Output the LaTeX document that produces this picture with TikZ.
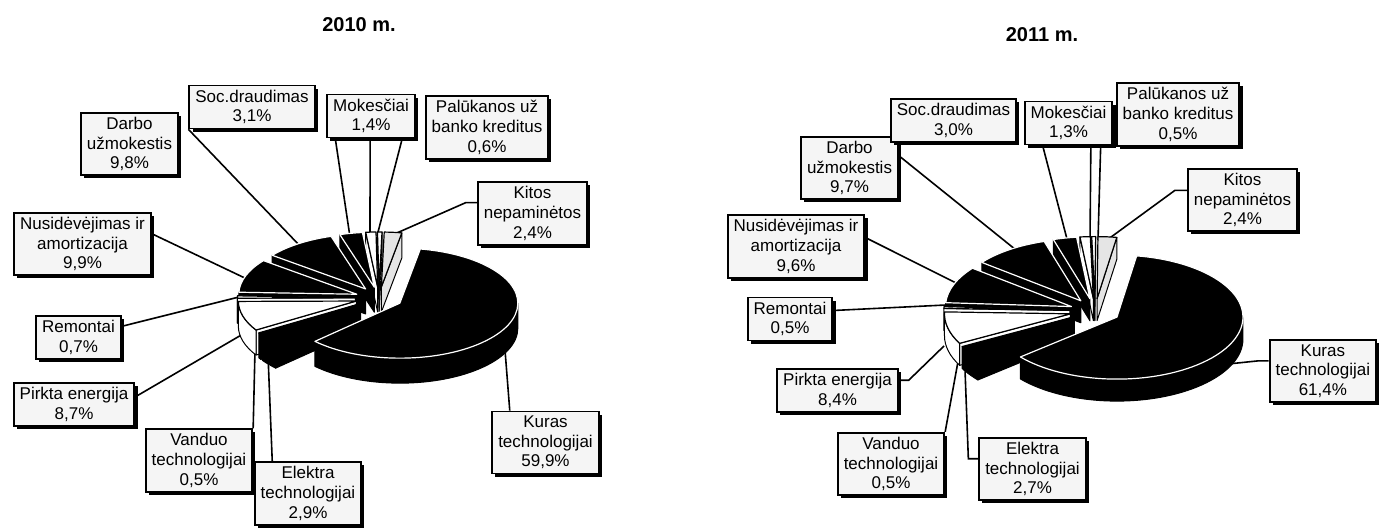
\documentclass[tikz,border=0pt]{standalone}
\usepackage{fontspec}
\setmainfont{Liberation Sans}
\usetikzlibrary{calc,shadows,backgrounds}

\tikzset{
  lbl/.style={draw, line width=0.9pt, fill=gray!8, align=center,
    font=\fontsize{8.5}{9.8}\selectfont, inner xsep=3pt, inner ysep=2.2pt,
    drop shadow={shadow xshift=1.6pt, shadow yshift=-1.6pt, fill=black, opacity=1}},
  ttl/.style={font=\bfseries\fontsize{10}{12}\selectfont},
  leader/.style={line width=0.8pt},
  side/.style={draw=black, line width=0.5pt, line join=round},
}

% #1 centre, #2 x radius, #3 y radius, #4 depth, #5 slices (from/to/fill/edge)
\newcommand{\explodedpie}[5]{%
  \foreach \angA/\angB/\col/\edg in #5 {
    \pgfmathsetmacro\amid{(\angA+\angB)/2}
    \pgfmathsetmacro\ca{cos(\angA)}
    \pgfmathsetmacro\cz{cos(\angB)}
    \pgfmathsetmacro\ba{max(\angA,180)}
    \pgfmathsetmacro\bz{min(\angB,360)}
    \path (#1) ++({0.2*#2*cos(\amid)},{0.2*#3*sin(\amid)}) coordinate (c) ++(0,-#4) coordinate (cb);
    \ifdim\ca pt>0pt
      \filldraw[side, fill=\col] (c) -- ++(\angA:#2 and #3) -- ++(0,-#4) -- (cb) -- cycle;
    \fi
    \ifdim\cz pt<0pt
      \filldraw[side, fill=\col] (c) -- ++(\angB:#2 and #3) -- ++(0,-#4) -- (cb) -- cycle;
    \fi
    \ifdim\bz pt>\ba pt
      \filldraw[side, fill=\col] (c) ++(\ba:#2 and #3)
        arc[start angle=\ba, end angle=\bz, x radius=#2, y radius=#3] -- ++(0,-#4)
        arc[start angle=\bz, end angle=\ba, x radius=#2, y radius=#3] -- cycle;
    \fi
  }
  \foreach \angA/\angB/\col/\edg in #5 {
    \pgfmathsetmacro\amid{(\angA+\angB)/2}
    \path (#1) ++({0.2*#2*cos(\amid)},{0.2*#3*sin(\amid)}) coordinate (c);
    \filldraw[fill=\col, draw=\edg, line width=0.6pt, line join=round] (c) -- ++(\angA:#2 and #3)
      arc[start angle=\angA, end angle=\angB, x radius=#2, y radius=#3] -- cycle;
  }
}

\def\slicesA{80/88.6/gray!20/black, 88.6/90.8/white/black, 90.8/95.8/white/black,
  95.8/107/black/white, 107/142.3/black/white, 142.3/177.9/black/white,
  177.9/180.4/white/black, 180.4/211.8/white/black, 211.8/213.6/black/black,
  213.6/224/black/black, 224/440/black/white}
\def\slicesB{81/89.6/gray!20/black, 89.6/91.4/white/black, 91.4/96.1/white/black,
  96.1/106.9/black/white, 106.9/141.8/black/white, 141.8/176.4/black/white,
  176.4/178.2/white/black, 178.2/208.4/white/black, 208.4/210.2/black/black,
  210.2/220/black/black, 220/441/black/white}

\begin{document}
\begin{tikzpicture}[x=0.5pt, y=0.5pt]
  \useasboundingbox (0,0) rectangle (1379,528);

  % pies
  \coordinate (oA) at (379,230);
  \coordinate (oB) at (1095,217);
  \explodedpie{oA}{118}{55}{25}{\slicesA}
  \explodedpie{oB}{126}{62}{22}{\slicesB}

  % 2010
  \node[ttl] (ttlA) at (359,503) {2010 m.};
  \node[lbl] (darA) at (129.5,384) {Darbo\\užmokestis\\9,8\%};
  \node[lbl] (socA) at (252,421) {Soc.draudimas\\3,1\%};
  \node[lbl] (mokA) at (371,412) {Mokesčiai\\1,4\%};
  \node[lbl] (palA) at (487,400.5) {Palūkanos už\\banko kreditus\\0,6\%};
  \node[lbl] (kitA) at (532.5,314.5) {Kitos\\nepaminėtos\\2,4\%};
  \node[lbl] (nusA) at (82.5,284) {Nusidėvėjimas ir\\amortizacija\\9,9\%};
  \node[lbl] (remA) at (78.5,190.5) {Remontai\\0,7\%};
  \node[lbl] (pirA) at (74,123.5) {Pirkta energija\\8,7\%};
  \node[lbl] (vanA) at (199,67.5) {Vanduo\\technologijai\\0,5\%};
  \node[lbl] (eleA) at (308,34.5) {Elektra\\technologijai\\2,9\%};
  \node[lbl] (kurA) at (545.5,85.5) {Kuras\\technologijai\\59,9\%};

  % 2011
  \node[ttl] (ttlB) at (1042,493) {2011 m.};
  \node[lbl] (darB) at (849.5,360) {Darbo\\užmokestis\\9,7\%};
  \node[lbl] (socB) at (953.5,407.5) {Soc.draudimas\\3,0\%};
  \node[lbl] (mokB) at (1068.5,405) {Mokesčiai\\1,3\%};
  \node[lbl] (palB) at (1178,413.5) {Palūkanos už\\banko kreditus\\0,5\%};
  \node[lbl] (kitB) at (1242.5,328) {Kitos\\nepaminėtos\\2,4\%};
  \node[lbl] (nusB) at (796,281.5) {Nusidėvėjimas ir\\amortizacija\\9,6\%};
  \node[lbl] (remB) at (790,209) {Remontai\\0,5\%};
  \node[lbl] (pirB) at (837.5,137.5) {Pirkta energija\\8,4\%};
  \node[lbl] (vanB) at (891,64) {Vanduo\\technologijai\\0,5\%};
  \node[lbl] (eleB) at (1032.5,59) {Elektra\\technologijai\\2,7\%};
  \node[lbl, anchor=east] (kurB) at (1377,157) {Kuras\\technologijai\\61,4\%};

  % leader ends on the pies
  \coordinate (pSocA) at (300,282);
  \coordinate (pMokA1) at (350,291);
  \coordinate (pMokA2) at (370,292);
  \coordinate (pMokA3) at (377,292);
  \coordinate (pKitA) at (390,292);
  \coordinate (pNusA) at (249,248);
  \coordinate (pRemA) at (241,231.5);
  \coordinate (pPirA) at (243,194);
  \coordinate (pVanA) at (255,178);
  \coordinate (pEleA) at (268,173);
  \coordinate (pKurA) at (505,178);
  \coordinate (pDarB) at (1016,278);
  \coordinate (pMokB1) at (1068,285);
  \coordinate (pMokB2) at (1090,288);
  \coordinate (pMokB3) at (1098,288);
  \coordinate (pKitB) at (1107,288);
  \coordinate (pNusB) at (958,244);
  \coordinate (pRemB) at (946,223);
  \coordinate (pPirB) at (944,182);
  \coordinate (pVanB) at (959,172);
  \coordinate (pEleB) at (965,158);
  \coordinate (pKurB) at (1228,164);

  \begin{scope}[on background layer]
    \draw[leader] (socA.south west) -- (pSocA);
    \draw[leader] ($(mokA.south west)!0.1!(mokA.south east)$) -- (pMokA1);
    \draw[leader] ($(mokA.south west)!0.49!(mokA.south east)$) -- (pMokA2);
    \draw[leader] ($(mokA.south west)!0.85!(mokA.south east)$) -- (pMokA3);
    \draw[leader] ($(kitA.north west)!0.33!(kitA.south west)$) -- ++(-11,0) -- (pKitA);
    \draw[leader] ($(nusA.north east)!0.34!(nusA.south east)$) -- (pNusA);
    \draw[leader] ($(remA.north east)!0.25!(remA.south east)$) -- (pRemA);
    \draw[leader] ($(pirA.north east)!0.33!(pirA.south east)$) -- (pPirA);
    \draw[leader] (vanA.north east) -- (pVanA);
    \draw[leader] ($(eleA.north west)!0.17!(eleA.north east)$) -- (pEleA);
    \draw[leader] ($(kurA.north west)!0.17!(kurA.north east)$) -- (pKurA);

    \draw[leader] ($(darB.north east)!0.31!(darB.south east)$) -- (pDarB);
    \draw[leader] ($(mokB.south west)!0.21!(mokB.south east)$) -- (pMokB1);
    \draw[leader] ($(mokB.south west)!0.75!(mokB.south east)$) -- (pMokB2);
    \draw[leader] ($(mokB.south west)!0.86!(mokB.south east)$) -- (pMokB3);
    \draw[leader] ($(kitB.north west)!0.35!(kitB.south west)$) -- ++(-12,0) -- (pKitB);
    \draw[leader] ($(nusB.north east)!0.36!(nusB.south east)$) -- (pNusB);
    \draw[leader] ($(remB.north east)!0.31!(remB.south east)$) -- (pRemB);
    \draw[leader] ($(pirB.north east)!0.27!(pirB.south east)$) -- ++(10,0) -- (pPirB);
    \draw[leader] (vanB.north east) -- (pVanB);
    \draw[leader] ($(eleB.north west)!0.34!(eleB.south west)$) -- ++(-10,0) -- (pEleB);
    \draw[leader] ($(kurB.north west)!0.34!(kurB.south west)$) -- ++(-10,0) -- (pKurB);
  \end{scope}
\end{tikzpicture}
\end{document}
